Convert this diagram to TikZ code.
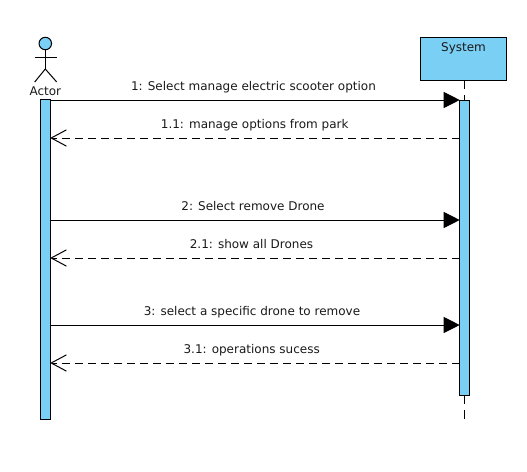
\documentclass[tikz,border=0pt]{standalone}
\usepackage{fontspec}
\setmainfont{DejaVu Sans}
\usetikzlibrary{arrows.meta}
\definecolor{barblue}{HTML}{7ACFF5}
\tikzset{
  syncmsg/.style={draw=black,line width=1pt,-{Triangle[length=16pt,width=16pt,fill=black]}},
  replymsg/.style={draw=black,line width=1pt,dash pattern=on 8pt off 5pt,-{Straight Barb[length=15pt,width=16pt,line width=1pt,round=false]}},
  msglabel/.style={font=\fontsize{12}{14}\selectfont,inner sep=0pt,anchor=base,text=black!90},
  activebar/.style={draw=black,line width=1pt,fill=barblue,minimum width=10pt,inner sep=0pt,outer sep=0pt,anchor=north west}
}
\begin{document}
\begin{tikzpicture}[x=1pt,y=1pt]
  \useasboundingbox (0,0) rectangle (527,-471);

  % System
  \node[draw=black,line width=1pt,fill=barblue,minimum width=86.4pt,minimum height=43pt,inner sep=0pt,outer sep=0pt,anchor=north west] (systembox) at (420.3,-37.3) {};
  \node[msglabel] (systemtext) at (463.5,-51.7) {System};
  \coordinate (lifeend) at (464.7,-421);
  \draw[line width=1pt,dash pattern=on 9pt off 6pt] (systembox.south -| lifeend) -- (lifeend);

  % Actor
  \node[circle,draw=black,line width=1pt,fill=barblue,minimum size=12.5pt,inner sep=0pt,outer sep=0pt] (actorhead) at (45.3,-43.5) {};
  \coordinate (hip) at (45.3,-69);
  \coordinate (armleft) at (34.7,-57.3);
  \coordinate (armright) at (56.7,-57.3);
  \coordinate (footleft) at (34.7,-82);
  \coordinate (footright) at (56.7,-82);
  \draw[line width=1pt] (actorhead.south) -- (hip);
  \draw[line width=1pt] (armleft) -- (armright);
  \draw[line width=1pt] (footleft) -- (hip) -- (footright);
  \node[msglabel] (actortext) at (45.3,-95.7) {Actor};

  % Bars
  \node[activebar,minimum height=320pt] (actorbar) at (40.7,-99.3) {};
  \node[activebar,minimum height=295.4pt] (systembar) at (459.7,-100.3) {};

  % Ends of the messages
  \coordinate (a1) at (actorbar.east |- 0,-100);
  \coordinate (s1) at (systembar.west |- 0,-100);
  \coordinate (a2) at (actorbar.east |- 0,-138);
  \coordinate (s2) at (systembar.west |- 0,-138);
  \coordinate (a3) at (actorbar.east |- 0,-220);
  \coordinate (s3) at (systembar.west |- 0,-220);
  \coordinate (a4) at (actorbar.east |- 0,-258);
  \coordinate (s4) at (systembar.west |- 0,-258);
  \coordinate (a5) at (actorbar.east |- 0,-325);
  \coordinate (s5) at (systembar.west |- 0,-325);
  \coordinate (a6) at (actorbar.east |- 0,-363);
  \coordinate (s6) at (systembar.west |- 0,-363);

  % Messages
  \draw[syncmsg] (a1) -- (s1);
  \draw[replymsg] (s2) -- (a2);
  \draw[syncmsg] (a3) -- (s3);
  \draw[replymsg] (s4) -- (a4);
  \draw[syncmsg] (a5) -- (s5);
  \draw[replymsg] (s6) -- (a6);

  % Labels
  \node[msglabel] (label1) at (253.5,-90.7) {1: Select manage electric scooter option};
  \node[msglabel] (label2) at (254.7,-128.3) {1.1: manage options from park};
  \node[msglabel] (label3) at (253,-210.7) {2: Select remove Drone};
  \node[msglabel] (label4) at (251.5,-248.3) {2.1: show all Drones};
  \node[msglabel] (label5) at (252,-315.7) {3: select a specific drone to remove};
  \node[msglabel] (label6) at (251.7,-353.3) {3.1: operations sucess};
\end{tikzpicture}
\end{document}
